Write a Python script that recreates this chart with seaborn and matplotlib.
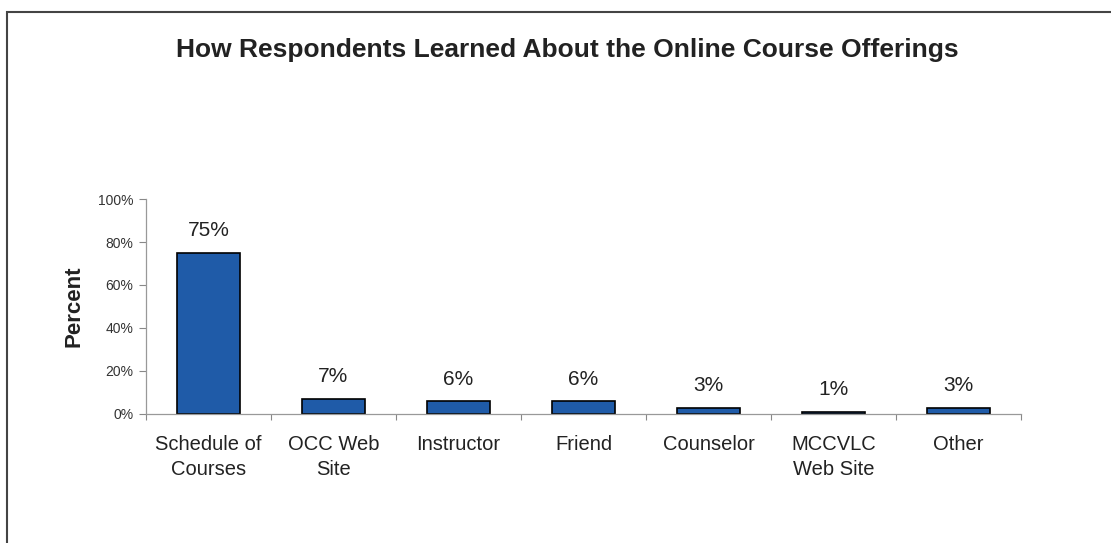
import matplotlib
matplotlib.use("Agg")
import matplotlib.pyplot as plt
import matplotlib.patches as mpatches
import seaborn as sns
import pandas as pd
from matplotlib.ticker import PercentFormatter

categories = ["Schedule of\nCourses", "OCC Web\nSite", "Instructor", "Friend",
              "Counselor", "MCCVLC\nWeb Site", "Other"]
percent = [75, 7, 6, 6, 3, 1, 3]
y_ticks = [0, 20, 40, 60, 80, 100]

df = pd.DataFrame({"source": categories, "percent": percent})

sns.set_theme(style="white")
plt.rcParams["font.family"] = ["Liberation Sans", "DejaVu Sans"]

fig = plt.figure(figsize=(11.11, 5.43), dpi=100)
ax = fig.add_axes([0.1314, 0.2376, 0.7876, 0.3959])

sns.barplot(data=df, x="source", y="percent", color="#1f5ba8", width=0.5,
            edgecolor="black", linewidth=1.2, saturation=1, ax=ax)

for p, v in zip(ax.patches, percent):
    ax.annotate(f"{v}%", (p.get_x() + p.get_width() / 2, p.get_height()),
                xytext=(0, 9), textcoords="offset points",
                ha="center", va="bottom", fontsize=15, color="#222222")

ax.set_ylim(0, 100)
ax.set_xlim(-0.5, len(categories) - 0.5)
ax.set_yticks(y_ticks)
ax.yaxis.set_major_formatter(PercentFormatter(decimals=0))
ax.tick_params(axis="y", labelsize=10, length=5, width=0.8, color="#888888",
               labelcolor="#333333", left=True, pad=4)
ax.set_xticks(range(len(categories)))
ax.set_xticklabels(categories, fontsize=14.5, color="#222222", linespacing=1.4)
ax.set_xticks([i - 0.5 for i in range(len(categories) + 1)], minor=True)
ax.tick_params(axis="x", which="major", length=0, pad=15)
ax.tick_params(axis="x", which="minor", length=4, width=0.8, color="#888888",
               bottom=True, direction="out")

ax.set_xlabel("")
ax.set_ylabel("Percent", fontsize=16, fontweight="bold", labelpad=10, color="#222222")

for side in ["top", "right"]:
    ax.spines[side].set_visible(False)
for side in ["left", "bottom"]:
    ax.spines[side].set_color("#999999")
    ax.spines[side].set_linewidth(0.9)

fig.text(0.511, 1 - 50 / 543, "How Respondents Learned About the Online Course Offerings",
         ha="center", va="center", fontsize=19, fontweight="bold", color="#222222")

# scanned page frame (top and left edges only)
frame = mpatches.Rectangle((7 / 1111, -0.2), 1.2, 1.2 - 12 / 543,
                           transform=fig.transFigure, fill=False,
                           edgecolor="#444444", linewidth=1.5)
fig.patches.append(frame)

fig.savefig("out.png", dpi=100)
